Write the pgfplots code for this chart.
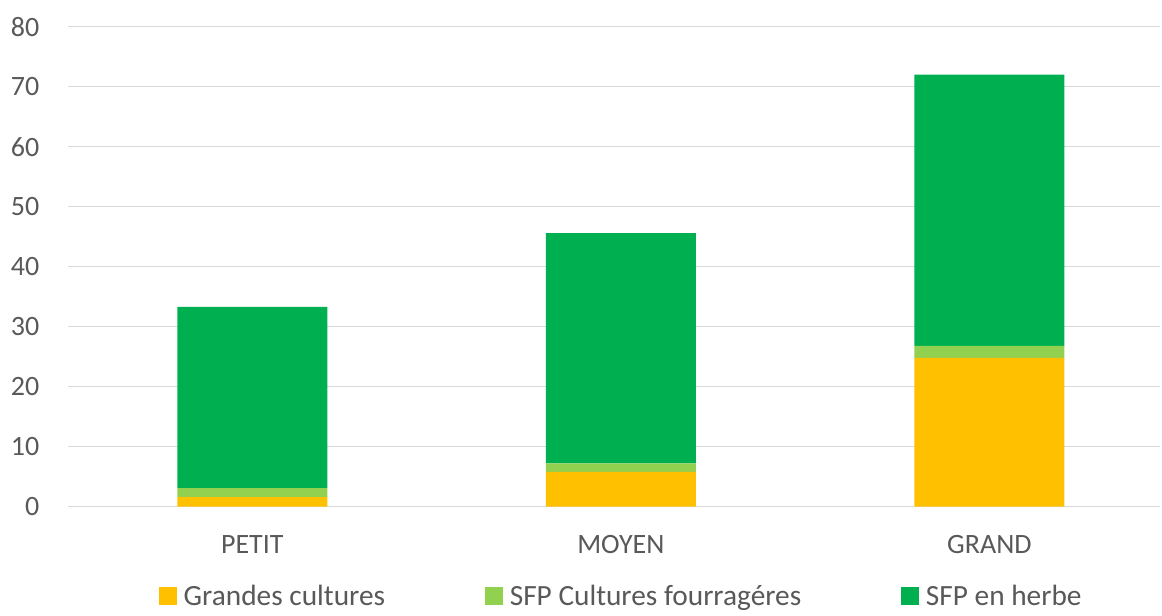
\documentclass[border=0pt]{standalone}
\usepackage{fontspec}
\setmainfont{Carlito}
\usepackage{pgfplots}
\pgfplotsset{compat=1.18}
\definecolor{gc}{HTML}{FFC000}
\definecolor{sfpc}{HTML}{92D050}
\definecolor{sfph}{HTML}{00B050}
\definecolor{txt}{HTML}{595959}
\definecolor{grd}{HTML}{D9D9D9}
\begin{document}
\begin{tikzpicture}
\begin{axis}[
  at={(51pt,82pt)}, anchor=south west,
  scale only axis,
  width=819pt, height=360pt,
  ybar stacked,
  bar width=112.5pt,
  xmin=-0.5, xmax=2.463,
  ymin=0, ymax=80,
  ytick={0,10,...,80},
  xtick=data,
  xticklabels={PETIT,MOYEN,GRAND},
  major tick length=0pt,
  axis line style={draw=none},
  ymajorgrids,
  grid style={grd, line width=1pt},
  font=\fontsize{21}{25}\selectfont,
  tick label style={txt},
  /pgf/number format/assume math mode=true,
  yticklabel style={xshift=-18pt},
  xticklabel style={yshift=-18pt},
  legend columns=3,
  legend style={draw=none, at={(0.507,-0.186)}, anchor=center,
    /tikz/every even column/.append style={column sep=73pt},
    font=\fontsize{22}{26}\selectfont, text=txt},
  legend image code/.code={\fill[#1] (0pt,-6.75pt) rectangle (13.5pt,6.75pt);},
]
\addplot[fill=gc, draw=none] coordinates {(0,1.6) (1,5.8) (2,24.8)};
\addplot[fill=sfpc, draw=none] coordinates {(0,1.5) (1,1.4) (2,2.0)};
\addplot[fill=sfph, draw=none] coordinates {(0,30.2) (1,38.4) (2,45.2)};
\legend{\hspace{3pt}Grandes cultures, \hspace{3pt}SFP Cultures fourragéres, \hspace{3pt}SFP en herbe}
\end{axis}
\pgfresetboundingbox
\path (0,0) rectangle (871.5pt,462pt);
\end{tikzpicture}
\end{document}
